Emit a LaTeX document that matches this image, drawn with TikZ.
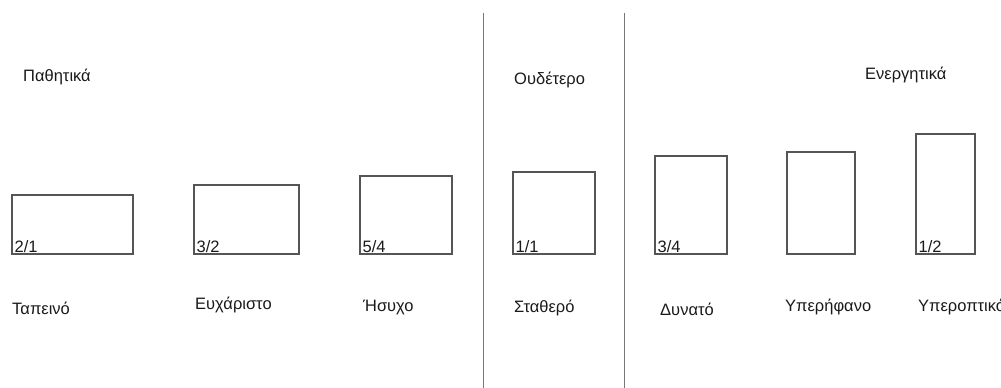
\documentclass[tikz,border=0pt]{standalone}
\usepackage{fontspec}
\setmainfont{Liberation Sans}
\usetikzlibrary{positioning}
\definecolor{InkDark}{HTML}{1A1A1A}
\definecolor{BoxLine}{HTML}{555555}
\definecolor{SepLine}{HTML}{777777}

\begin{document}
\begin{tikzpicture}[
        x=1pt, y=-1pt,
        font=\fontsize{16.5}{20}\selectfont, text=InkDark,
        bar/.style={rectangle, draw=BoxLine, line width=1.1pt, inner sep=0pt, outer sep=0pt, anchor=south west},
        num/.style={anchor=south west, inner xsep=2.5pt, inner ysep=1pt, font=\fontsize{16.5}{20}\selectfont},
        lbl/.style={anchor=west, inner sep=0pt},
        cat/.style={lbl},
        sep/.style={draw=SepLine, line width=0.9pt}
      ]
        \useasboundingbox (0,0) rectangle (1001,388);

        % separators
        \coordinate (sepA top) at (483,13);
        \coordinate (sepA bot) at (483,388);
        \coordinate (sepB top) at (624,13);
        \coordinate (sepB bot) at (624,388);
        \draw[sep] (sepA top) -- (sepA bot);
        \draw[sep] (sepB top) -- (sepB bot);

        % group titles
        \node[cat] (passive) at (23,77) {Παθητικά};
        \node[cat] (neutral) at (514,80) {Ουδέτερο};
        \node[cat] (active) at (865,75) {Ενεργητικά};

        % boxes
        \node[bar, minimum width=121pt, minimum height=59pt] (tapeino) at (12,254) {};
        \node[bar, minimum width=105pt, minimum height=69pt] (eucharisto) at (194,254) {};
        \node[bar, minimum width=92pt, minimum height=78pt] (hsucho) at (360,254) {};
        \node[bar, minimum width=82pt, minimum height=82pt] (stathero) at (513,254) {};
        \node[bar, minimum width=72pt, minimum height=98pt] (dunato) at (655,254) {};
        \node[bar, minimum width=68pt, minimum height=102pt] (yperifano) at (787,254) {};
        \node[bar, minimum width=59pt, minimum height=120pt] (yperoptiko) at (916,254) {};

        % ratios
        \node[num] (r21) at (tapeino.south west) {2/1};
        \node[num] (r32) at (eucharisto.south west) {3/2};
        \node[num] (r54) at (hsucho.south west) {5/4};
        \node[num] (r11) at (stathero.south west) {1/1};
        \node[num] (r34) at (dunato.south west) {3/4};
        \node[num] (r12) at (yperoptiko.south west) {1/2};

        % names
        \node[lbl] (nTapeino) at (12,308) {Ταπεινό};
        \node[lbl] (nEucharisto) at (195,305) {Ευχάριστο};
        \node[lbl] (nHsucho) at (363,308) {Ήσυχο};
        \node[lbl] (nStathero) at (514,308) {Σταθερό};
        \node[lbl] (nDunato) at (660,309) {Δυνατό};
        \node[lbl] (nYperifano) at (785,307) {Υπερήφανο};
        \node[lbl] (nYperoptiko) at (918,307) {Υπεροπτικό};
      \end{tikzpicture}
\end{document}
